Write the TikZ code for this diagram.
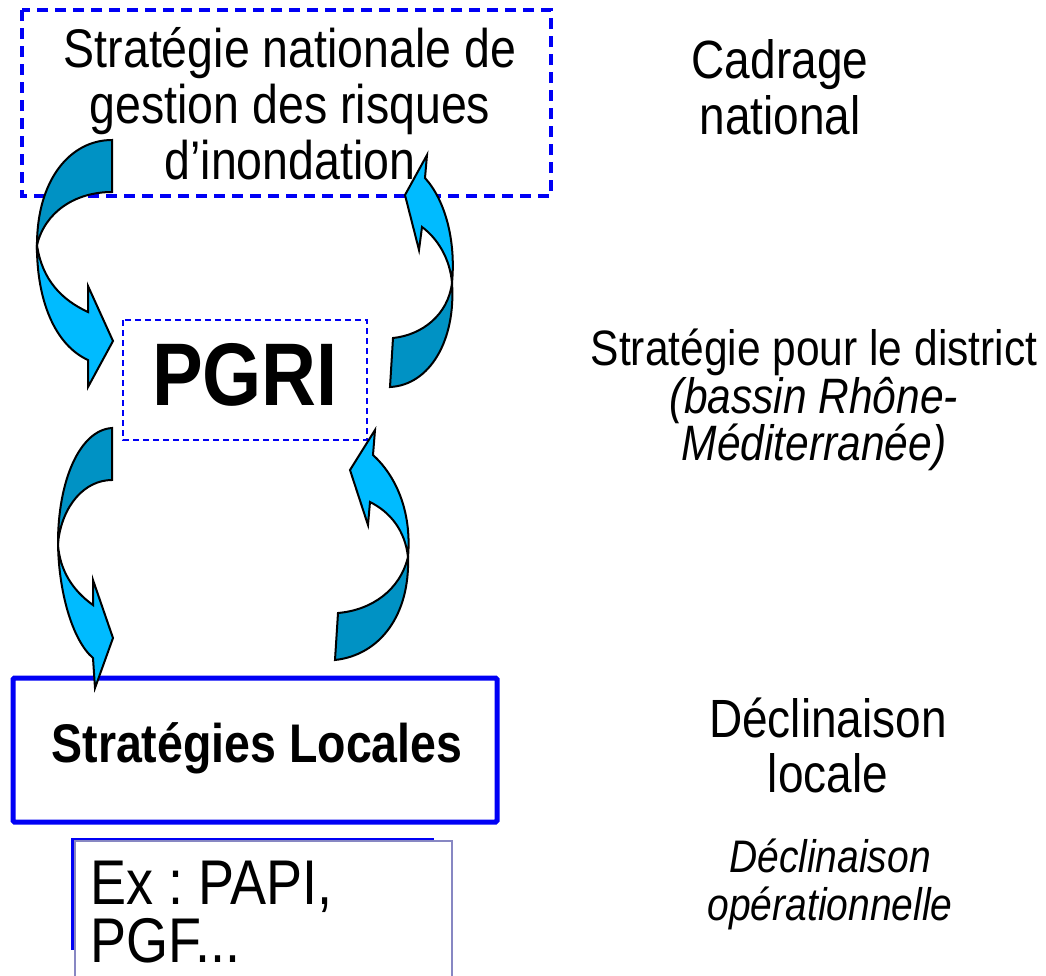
\documentclass[tikz,border=0pt]{standalone}
\usepackage{fontspec}
\setmainfont{Liberation Sans}
\frenchspacing
\definecolor{arrdark}{RGB}{0,146,196}
\definecolor{arrlight}{RGB}{0,187,255}
\definecolor{boxblue}{RGB}{0,0,245}
\definecolor{thingray}{RGB}{135,135,195}
\tikzset{
  arrowpart/.style={draw=black, line width=2pt, line join=miter},
  darkpart/.style={arrowpart, fill=arrdark},
  lightpart/.style={arrowpart, fill=arrlight},
  txt/.style={inner sep=0pt, align=center, text=black},
}
\newcommand\tnode[4]{\begin{scope}[shift={#2}, yscale=1.17]\node[txt, transform shape, #3] (#1) at (0,0) {#4};\end{scope}}
\begin{document}
\begin{tikzpicture}[x=1pt, y=-1pt]
\useasboundingbox (0,0) rectangle (1046,975);
\fill[white] (0,0) rectangle (1046,975);

% boxes
\draw[boxblue, line width=3.3pt, dash pattern=on 11pt off 7pt] (22,10) rectangle (551,196);
\draw[boxblue, line width=2.3pt, dash pattern=on 6pt off 4pt] (123,320) rectangle (367,440);
\draw[boxblue, line width=5pt, rounded corners=1.5pt] (13,678) rectangle (497,822);
\draw[boxblue, line width=4.5pt] (73,840) rectangle (432,948);
\draw[thingray, line width=1.5pt, fill=white] (75,841) rectangle (452,990);

% texts
\tnode{nat}{(290,104)}{font=\fontsize{46.5}{48}\selectfont}{Stratégie nationale de\\gestion des risques\\d’inondation}
\tnode{cad}{(780,87)}{font=\fontsize{46}{48}\selectfont}{Cadrage\\national}
\tnode{pgri}{(245,375)}{font=\fontsize{76}{80}\bfseries\selectfont}{PGRI}
\tnode{dist}{(814,400)}{font=\fontsize{42.5}{40.6}\selectfont}{Stratégie pour le district\\\itshape (bassin Rhône-\\\itshape Méditerranée)}
\tnode{sl}{(257,748)}{font=\fontsize{46.5}{50}\bfseries\selectfont}{Stratégies Locales}
\tnode{decl}{(828,745)}{font=\fontsize{46}{47}\selectfont}{Déclinaison\\locale}
\tnode{oper}{(830,884)}{font=\fontsize{39}{41}\itshape\selectfont}{Déclinaison\\opérationnelle}
\tnode{ex}{(90,912)}{align=left, anchor=west, font=\fontsize{54}{49}\selectfont}{Ex : PAPI,\\PGF...}

% arrow 1: national -> PGRI (left)
\draw[darkpart] (112,140) .. controls (70,140) and (37,180) .. (37,245)
  .. controls (45,212) and (75,192) .. (112,192) -- cycle;
\draw[lightpart] (37,242) .. controls (36,300) and (55,345) .. (88,360)
  -- (88,387) -- (113,341) -- (88,286) -- (88,312)
  .. controls (62,300) and (42,280) .. (37,245) -- cycle;

% arrow 2: PGRI -> national (right)
\draw[darkpart] (452,283) .. controls (456,340) and (430,385) .. (390,387)
  -- (393,338) .. controls (422,335) and (448,315) .. (452,283) -- cycle;
\draw[lightpart] (452,283) .. controls (456,240) and (445,200) .. (425,178)
  -- (427,155) -- (405,195) -- (419,250) -- (422,227)
  .. controls (437,238) and (450,258) .. (452,283) -- cycle;

% arrow 3: PGRI -> local (left)
\draw[darkpart] (112,428) .. controls (80,430) and (58,480) .. (58,543)
  .. controls (62,505) and (85,480) .. (112,480) -- cycle;
\draw[lightpart] (58,540) .. controls (58,590) and (72,640) .. (93,658)
  -- (95,688) -- (113,638) -- (93,580) -- (93,605)
  .. controls (72,590) and (60,570) .. (58,545) -- cycle;

% arrow 4: local -> PGRI (right)
\draw[darkpart] (408,557) .. controls (410,615) and (380,655) .. (335,660)
  -- (338,613) .. controls (372,610) and (400,590) .. (408,557) -- cycle;
\draw[lightpart] (408,557) .. controls (412,510) and (395,475) .. (373,455)
  -- (375,430) -- (350,470) -- (368,525) -- (370,502)
  .. controls (390,512) and (405,530) .. (408,557) -- cycle;
\end{tikzpicture}
\end{document}
